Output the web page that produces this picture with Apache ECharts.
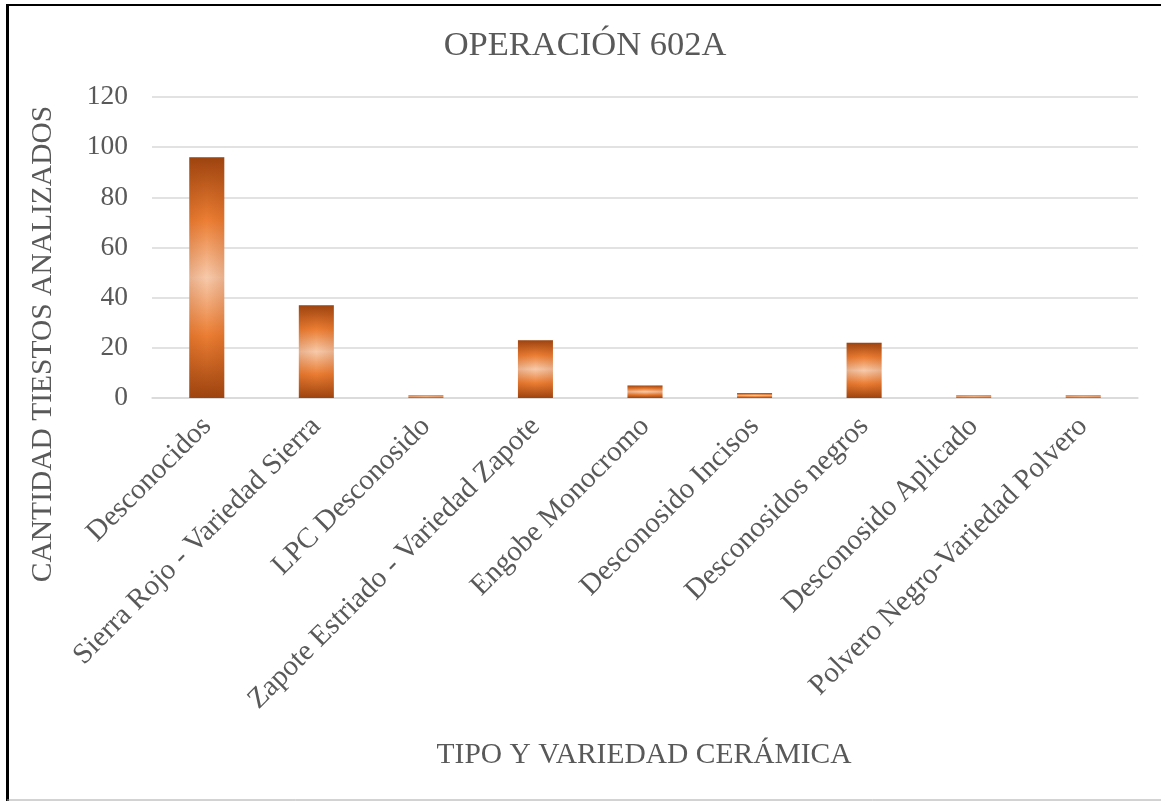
<!DOCTYPE html>
<html>
<head>
<meta charset="utf-8">
<script src="https://cdn.jsdelivr.net/npm/echarts@6/dist/echarts.min.js"></script>
<style>
  html, body { margin: 0; padding: 0; background: #ffffff; }
  #chart { width: 1161px; height: 801px; }
</style>
</head>
<body>
<div id="chart"></div>
<script>
// Ceramic types and varieties recorded in Operación 602A
const categories = [
  'Desconocidos',
  'Sierra Rojo - Variedad Sierra',
  'LPC Desconosido',
  'Zapote Estriado - Variedad Zapote',
  'Engobe Monocromo',
  'Desconosido Incisos',
  'Desconosidos negros',
  'Desconosido Aplicado',
  'Polvero Negro-Variedad Polvero'
];
// Number of sherds analysed per type
const counts = [96, 37, 1, 23, 5, 2, 22, 1, 1];

const chartTitle = 'OPERACIÓN 602A';
const xAxisTitle = 'TIPO Y VARIEDAD CERÁMICA';
const yAxisTitle = 'CANTIDAD TIESTOS ANALIZADOS';

const serif = '"Liberation Serif", "Times New Roman", serif';
const textColor = '#595959';
const gridColor = '#D9D9D9';

// Orange bar fill: dark rims, bright orange band, pale glowing centre
const barFill = new echarts.graphic.LinearGradient(0, 0, 0, 1, [
  { offset: 0, color: '#9C430F' },
  { offset: 0.26, color: '#EC7E33' },
  { offset: 0.5, color: '#F7CAAB' },
  { offset: 0.74, color: '#EC7E33' },
  { offset: 1, color: '#9C430F' }
]);
// Soft shading toward the left and right edges of each bar
const edgeShade = new echarts.graphic.LinearGradient(0, 0, 1, 0, [
  { offset: 0, color: 'rgba(170,70,15,0.2)' },
  { offset: 0.5, color: 'rgba(170,70,15,0)' },
  { offset: 1, color: 'rgba(170,70,15,0.2)' }
]);

const chart = echarts.init(document.getElementById('chart'), null, { renderer: 'canvas' });

chart.setOption({
  backgroundColor: '#ffffff',
  animation: false,
  grid: { left: 152, right: 23, top: 97, bottom: 403, containLabel: false },
  xAxis: {
    type: 'category',
    data: categories,
    axisLine: { show: true, lineStyle: { color: gridColor, width: 1.5 } },
    axisTick: { show: false },
    axisLabel: {
      interval: 0,
      rotate: 45,
      margin: 24,
      color: textColor,
      fontFamily: serif,
      fontSize: 29
    }
  },
  yAxis: {
    type: 'value',
    min: 0,
    max: 120,
    interval: 20,
    axisLine: { show: false },
    axisTick: { show: false },
    axisLabel: {
      margin: 24,
      color: textColor,
      fontFamily: serif,
      fontSize: 27.5
    },
    splitLine: { lineStyle: { color: gridColor, width: 1.5 } }
  },
  series: [
    {
      type: 'bar',
      data: counts,
      barWidth: 35,
      itemStyle: { color: barFill }
    },
    {
      type: 'bar',
      data: counts,
      barWidth: 35,
      barGap: '-100%',
      silent: true,
      itemStyle: { color: edgeShade }
    }
  ],
  graphic: [
    // frame around the chart area
    { type: 'line', shape: { x1: 7, y1: 5, x2: 1161, y2: 5 }, style: { stroke: '#000', lineWidth: 2 } },
    { type: 'line', shape: { x1: 7.5, y1: 4, x2: 7.5, y2: 801 }, style: { stroke: '#000', lineWidth: 3 } },
    { type: 'line', shape: { x1: 7, y1: 800, x2: 1161, y2: 800 }, style: { stroke: '#A6A6A6', lineWidth: 1 } },
    {
      type: 'text', x: 585, y: 46,
      style: { text: chartTitle, fill: textColor, font: '34.5px ' + serif, align: 'center', verticalAlign: 'middle' }
    },
    {
      type: 'text', x: 644, y: 755,
      style: { text: xAxisTitle, fill: textColor, font: '29.5px ' + serif, align: 'center', verticalAlign: 'middle' }
    },
    {
      type: 'text', x: 43, y: 344, rotation: Math.PI / 2,
      style: { text: yAxisTitle, fill: textColor, font: '29.5px ' + serif, align: 'center', verticalAlign: 'middle' }
    }
  ]
});
</script>
</body>
</html>
